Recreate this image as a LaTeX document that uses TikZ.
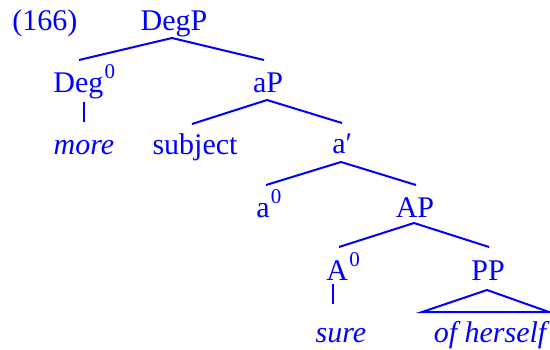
\documentclass[tikz,border=0pt]{standalone}
\usepackage{fontspec}
\setmainfont{Liberation Serif}
\definecolor{tb}{RGB}{0,0,255}
\newcommand{\zsup}{\kern0.6pt\raisebox{6.6pt}{\fontsize{10.5}{12}\selectfont 0}}
\begin{document}
\begin{tikzpicture}[x=0.5pt,y=-0.5pt,
  lab/.style={anchor=base,inner sep=0pt,text=tb,font=\fontsize{15}{18}\selectfont},
  br/.style={draw=tb,line width=1pt}]
\useasboundingbox (0,0) rectangle (550,349);
\node[lab,anchor=base west] (ex) at (12,30) {(166)};
\node[lab] (DegP) at (174,30) {DegP};
\node[lab,anchor=base west] (Deg0) at (53,92) {Deg\zsup};
\node[lab] (aP) at (268,92) {aP};
\node[lab] (more) at (84,154) {\itshape more};
\node[lab] (subj) at (195,154) {subject};
\node[lab,anchor=base west] (abar) at (332,153) {a′};
\node[lab,anchor=base west] (a0) at (256,217) {a\zsup};
\node[lab] (AP) at (415,217) {AP};
\node[lab,anchor=base west] (A0) at (326,280) {A\zsup};
\node[lab] (PP) at (488,280) {PP};
\node[lab] (sure) at (341,342) {\itshape sure};
\node[lab] (ofh) at (490,342) {\itshape of herself};
% connector end points
\coordinate (DegP-t) at (172,38);
\coordinate (Deg0-b) at (79,60);
\coordinate (aP-b) at (264,60);
\coordinate (aP-t) at (267,100);
\coordinate (subj-b) at (192,124);
\coordinate (abar-b) at (342,123);
\coordinate (abar-t) at (341,162);
\coordinate (a0-b) at (266,185);
\coordinate (AP-b) at (416,185);
\coordinate (AP-t) at (414,223);
\coordinate (A0-b) at (339,247);
\coordinate (PP-b) at (489,247);
\coordinate (Deg0-t) at (84,102);
\coordinate (more-b) at (84,122);
\coordinate (A0-t) at (333,284);
\coordinate (sure-b) at (333,304);
\coordinate (PP-t) at (487,290);
\coordinate (ofh-l) at (422,312);
\coordinate (ofh-r) at (549,312);
\draw[br] (Deg0-b) -- (DegP-t) -- (aP-b);
\draw[br] (subj-b) -- (aP-t) -- (abar-b);
\draw[br] (a0-b) -- (abar-t) -- (AP-b);
\draw[br] (A0-b) -- (AP-t) -- (PP-b);
\draw[br] (Deg0-t) -- (more-b);
\draw[br] (A0-t) -- (sure-b);
\draw[br,line join=miter] (ofh-l) -- (PP-t) -- (ofh-r) -- cycle;
\end{tikzpicture}
\end{document}
